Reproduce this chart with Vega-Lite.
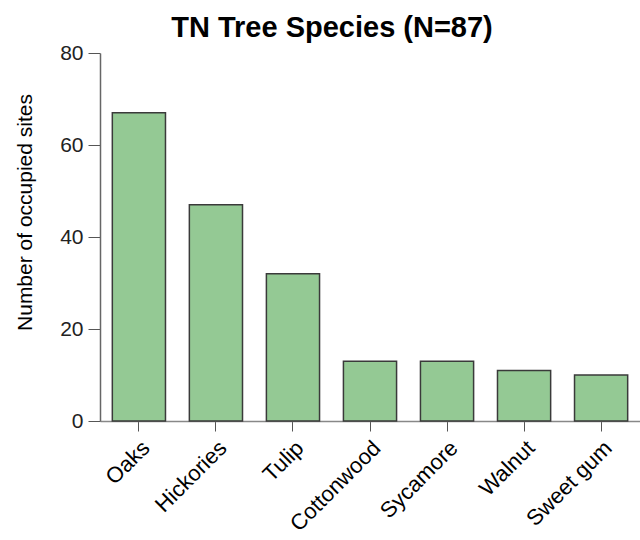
{
  "$schema": "https://vega.github.io/schema/vega-lite/v6.json",
  "width": 540,
  "height": 368,
  "autosize": {"type": "none"},
  "padding": {"left": 100, "top": 53, "right": 0, "bottom": 119},
  "background": "white",
  "title": {
    "text": "TN Tree Species (N=87)",
    "font": "Liberation Sans",
    "fontSize": 29,
    "fontWeight": "bold",
    "color": "black",
    "anchor": "middle",
    "frame": "group",
    "dx": -38,
    "dy": 32,
    "baseline": "alphabetic",
    "offset": 8
  },
  "data": {
    "values": [
      {"species": "Oaks", "sites": 67},
      {"species": "Hickories", "sites": 47},
      {"species": "Tulip", "sites": 32},
      {"species": "Cottonwood", "sites": 13},
      {"species": "Sycamore", "sites": 13},
      {"species": "Walnut", "sites": 11},
      {"species": "Sweet gum", "sites": 10}
    ]
  },
  "mark": {"type": "bar", "fill": "#94c994", "stroke": "#3a3a3a", "strokeWidth": 1.5},
  "encoding": {
    "x": {
      "field": "species",
      "type": "nominal",
      "sort": null,
      "scale": {"paddingInner": 0.31, "paddingOuter": 0.16},
      "axis": {
        "title": null,
        "labelAngle": -45,
        "labelAlign": "right",
        "labelBaseline": "top",
        "labelFont": "Liberation Sans",
        "labelFontSize": 22,
        "labelColor": "black",
        "labelPadding": 6,
        "tickSize": 10,
        "tickColor": "#555",
        "domainColor": "#888",
        "domainWidth": 1.5
      }
    },
    "y": {
      "field": "sites",
      "type": "quantitative",
      "scale": {"domain": [0, 80], "nice": false},
      "axis": {
        "title": "Number of occupied sites",
        "titleFont": "Liberation Sans",
        "titleFontSize": 21,
        "titleFontWeight": "normal",
        "titleColor": "black",
        "titlePadding": 24,
        "titleY": 159,
        "titleAlign": "center",
        "values": [0, 20, 40, 60, 80],
        "grid": false,
        "labelFont": "Liberation Sans",
        "labelFontSize": 21,
        "labelColor": "#222",
        "labelPadding": 5,
        "tickSize": 12,
        "tickColor": "#555",
        "domainColor": "#666",
        "domainWidth": 1.5
      }
    }
  },
  "config": {"view": {"stroke": null}}
}
